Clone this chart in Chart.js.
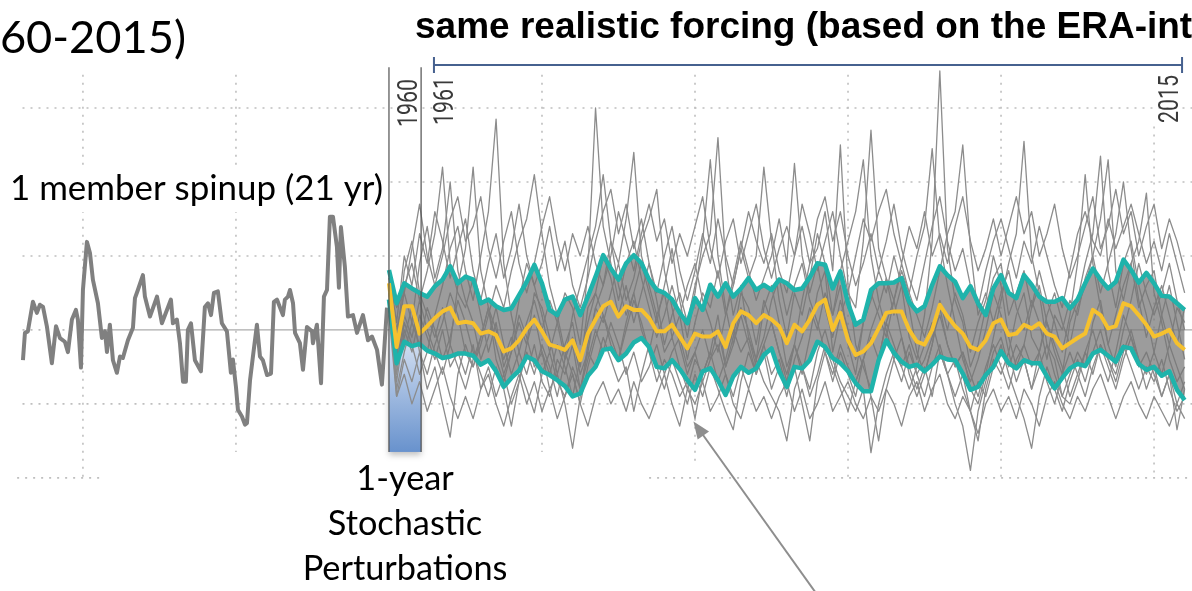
<!DOCTYPE html>
<html lang="en">
<head>
<meta charset="UTF-8" />
<title>Ensemble with stochastic perturbations</title>
<script src="https://cdn.jsdelivr.net/npm/chart.js"></script>
<style>
  html, body { margin: 0; padding: 0; background: #fff; overflow: hidden; }
  canvas { display: block; }
</style>
</head>
<body>
<canvas id="ensembleChart" width="1192" height="591"></canvas>
<script>
// time axis: units of the schematic, 0 = start of 1960
const spinT = [-23.92,-23.79,-23.6,-23.27,-23.01,-22.81,-22.61,-22.35,-22.03,-21.76,-21.5,-21.18,-20.98,-20.72,-20.46,-20.33,-20.13,-20.0,-19.74,-19.54,-19.35,-19.02,-18.76,-18.56,-18.43,-18.24,-18.04,-17.78,-17.58,-17.39,-17.06,-16.73,-16.6,-16.41,-16.08,-15.95,-15.62,-15.16,-14.84,-14.51,-14.25,-14.12,-13.86,-13.66,-13.46,-13.27,-13.14,-12.94,-12.68,-12.29,-12.03,-11.83,-11.63,-11.44,-11.18,-10.92,-10.59,-10.33,-10.2,-10.0,-9.87,-9.61,-9.41,-9.28,-9.08,-8.89,-8.63,-8.43,-8.24,-7.97,-7.71,-7.52,-7.32,-6.93,-6.8,-6.6,-6.47,-6.27,-6.14,-5.82,-5.62,-5.36,-5.03,-4.97,-4.71,-4.44,-4.25,-4.05,-3.86,-3.66,-3.4,-3.27,-3.14,-2.88,-2.68,-2.35,-2.09,-1.7,-1.37,-1.11,-0.78,-0.46,-0.13];
const spinV = [-0.41,-0.04,-0.02,0.38,0.23,0.34,0.31,0.04,-0.45,0.05,-0.11,-0.16,-0.3,0.14,0.27,0.14,-0.51,0.54,1.19,1.04,0.68,0.36,-0.11,-0.02,-0.3,0.07,-0.41,-0.58,-0.36,-0.38,-0.14,0.03,0.43,0.54,0.74,0.45,0.18,0.45,0.09,0.27,0.41,0.09,0.14,-0.18,-0.7,-0.7,0.0,0.09,-0.41,-0.56,0.31,0.36,0.2,0.5,0.52,0.09,-0.02,-0.58,-0.4,-0.77,-1.08,-1.17,-1.28,-1.26,-0.68,-0.36,0.07,-0.36,-0.41,-0.61,-0.59,0.38,0.41,0.2,0.41,0.45,0.54,0.36,-0.04,-0.18,-0.54,0.04,-0.02,-0.18,0.07,-0.72,0.45,0.54,1.53,1.53,1.12,0.57,1.39,0.85,0.18,0.2,-0.04,0.2,-0.14,-0.09,-0.27,-0.74,0.3];

// ensemble 1960-2015, sampled every half unit from t = 0
const ensStart = 0;
const ensStep = 0.5;
const ensMean = [0.63,-0.23,0.32,0.32,-0.05,0.05,0.16,0.25,0.3,0.09,
  0.11,0.09,-0.05,-0.02,-0.07,-0.29,-0.25,-0.14,0.02,0.14,
  -0.02,-0.2,-0.23,-0.27,-0.14,-0.41,-0.05,0.14,0.32,0.38,
  0.18,0.32,0.27,0.27,0.16,-0.02,-0.02,0.07,-0.09,-0.25,
  -0.05,-0.09,-0.09,-0.02,-0.23,0.09,0.25,0.2,0.09,0.2,
  0.14,0.05,-0.18,0.07,-0.02,0.14,0.34,0.41,0.0,0.23,
  -0.14,-0.34,-0.29,-0.18,0.02,0.23,0.25,0.25,0.0,-0.16,
  -0.2,0.0,0.34,0.18,0.05,-0.05,-0.23,-0.27,-0.14,0.09,
  0.14,-0.07,-0.05,0.07,0.02,0.09,-0.05,-0.09,-0.25,-0.18,
  -0.11,-0.05,0.27,0.2,0.02,0.05,0.36,0.32,0.2,0.07,
  -0.09,-0.05,0.0,-0.18,-0.27];
const ensUpper = [0.81,0.36,0.63,0.56,0.5,0.45,0.59,0.68,0.86,0.63,
  0.72,0.68,0.36,0.41,0.32,0.27,0.29,0.47,0.65,0.88,
  0.63,0.27,0.2,0.41,0.45,0.2,0.45,0.72,1.01,0.83,
  0.68,0.9,1.01,0.9,0.68,0.54,0.5,0.41,0.23,0.09,
  0.43,0.27,0.61,0.45,0.63,0.45,0.56,0.7,0.54,0.61,
  0.54,0.68,0.63,0.54,0.56,0.71,0.9,0.88,0.56,0.79,
  0.36,0.07,0.14,0.54,0.63,0.63,0.64,0.7,0.38,0.25,
  0.32,0.61,0.86,0.74,0.65,0.43,0.59,0.36,0.2,0.56,
  0.74,0.5,0.43,0.74,0.61,0.45,0.38,0.38,0.43,0.29,
  0.41,0.63,0.83,0.68,0.56,0.65,0.95,0.81,0.64,0.77,
  0.63,0.46,0.45,0.36,0.27];
const ensLower = [0.41,-0.45,-0.16,-0.22,-0.19,-0.28,-0.32,-0.38,-0.36,-0.32,
  -0.32,-0.35,-0.47,-0.41,-0.56,-0.77,-0.65,-0.55,-0.36,-0.41,
  -0.56,-0.61,-0.68,-0.76,-0.9,-0.86,-0.62,-0.5,-0.27,-0.25,
  -0.41,-0.32,-0.17,-0.11,-0.23,-0.5,-0.52,-0.41,-0.53,-0.68,
  -0.81,-0.56,-0.52,-0.68,-0.88,-0.63,-0.5,-0.58,-0.52,-0.34,
  -0.25,-0.56,-0.77,-0.5,-0.52,-0.41,-0.16,-0.23,-0.38,-0.45,
  -0.56,-0.72,-0.83,-0.83,-0.41,-0.14,-0.31,-0.43,-0.5,-0.47,
  -0.56,-0.47,-0.36,-0.4,-0.41,-0.59,-0.81,-0.77,-0.61,-0.5,
  -0.29,-0.45,-0.52,-0.41,-0.45,-0.45,-0.63,-0.79,-0.65,-0.52,
  -0.46,-0.49,-0.32,-0.27,-0.35,-0.43,-0.23,-0.25,-0.46,-0.54,
  -0.5,-0.62,-0.56,-0.81,-0.95];

// individual members (same sampling)
const member1 = [0.5,-0.4,0.6,0.9,0.4,0.8,1.3,2.2,0.9,0.5, 0.3,0.7,0.2,-0.3,0.1,-0.5,-0.2,0.4,0.9,0.6, 0.2,-0.3,0.1,0.5,0.3,-0.2,0.8,3.0,1.4,0.9, 0.4,0.9,1.2,0.7,0.3,-0.1,0.2,0.6,0.2,-0.4, 0.1,0.5,0.3,0.8,0.2,0.6,1.1,0.7,1.0,2.2, 1.2,0.4,-0.1,0.5,0.2,0.7,1.3,0.9,0.2,0.6, -0.2,-0.6,0.1,0.4,0.8,0.5,1.0,0.6,-0.1,-0.4, 0.2,1.2,3.5,1.1,0.4,0.1,-0.5,-0.2,0.3,0.7, 0.9,0.2,0.5,0.8,0.3,0.6,0.1,-0.3,-0.6,0.1, 0.4,0.9,1.3,2.35,0.8,0.3,0.9,1.2,0.6,0.2, -0.3,0.2,0.6,0.1,-0.4];
const member2 = [0.6,-0.6,0.1,-0.2,-0.6,-0.3,0.2,0.6,1.1,1.4, 0.8,0.4,1.0,1.6,2.85,0.9,0.2,-0.3,-0.6,-0.2, -0.7,-0.9,-0.4,-0.6,-0.2,-0.8,-0.3,0.3,0.6,1.2, 0.9,1.5,2.4,1.0,0.6,0.2,-0.3,-0.1,-0.5,-0.8, -0.4,-0.6,-0.3,0.2,-0.5,-0.1,0.5,0.3,-0.2,0.4, 0.1,-0.3,-0.7,-0.2,0.4,0.9,1.1,1.6,0.8,2.5, 0.6,-0.2,-0.5,-0.8,-0.4,0.1,0.4,-0.1,-0.6,-0.9, -0.6,-0.2,0.3,-0.2,-0.5,-0.3,-0.8,-1.0,-0.6,-0.1, 0.4,0.9,1.3,2.55,1.0,0.5,-0.2,-0.4,-0.9,-0.6, -0.3,-0.5,0.1,0.4,-0.2,0.2,0.6,0.9,1.2,1.85, 0.5,0.1,-0.4,-0.7,-0.5];
const member3 = [0.7,-0.2,0.8,1.2,0.5,0.2,-0.1,0.3,-0.2,0.6, 1.1,2.2,0.8,0.3,-0.4,-0.7,-0.3,0.1,-0.2,0.5, 0.3,-0.1,-0.6,-0.2,0.1,-0.5,0.3,0.5,1.0,0.7, 0.2,0.6,0.1,0.5,0.9,0.4,-0.2,0.2,0.5,0.1, 0.6,1.0,1.3,2.6,0.9,0.2,0.6,-0.1,-0.4,0.3, 0.6,0.1,-0.5,-0.2,-0.6,-0.1,0.5,0.8,-0.3,0.2, 0.5,0.3,1.2,2.7,1.1,0.7,0.2,0.6,0.3,-0.3, -0.6,-0.2,0.4,0.0,0.5,0.2,-0.3,0.1,0.4,1.0, 0.6,-0.1,-0.5,-0.2,0.3,0.8,0.4,0.1,-0.3,0.2, 0.9,2.1,0.9,0.3,-0.2,-0.5,0.0,0.4,0.9,0.5, 0.2,0.5,0.9,0.4,0.0];
const member4 = [0.4,-0.5,-0.1,0.3,-0.3,-0.6,-0.2,0.1,0.5,0.2, -0.3,-0.5,-0.2,0.2,0.6,0.3,0.8,1.2,1.5,2.1, 1.3,0.6,0.2,-0.3,-0.6,-1.0,-0.5,-0.1,0.2,-0.2, -0.4,0.1,0.5,0.9,0.5,0.1,0.6,1.1,0.4,-0.1, 0.5,1.2,2.3,1.0,0.3,-0.2,0.3,0.0,-0.4,-0.1, 0.4,0.7,0.2,0.6,0.9,0.4,0.1,-0.3,-0.7,-0.3, -0.6,-0.9,-0.4,0.0,0.3,0.7,0.4,0.9,0.5,1.0, 1.4,2.45,1.2,0.6,0.1,-0.4,-0.7,-0.4,0.0,0.5, 0.2,-0.3,0.2,0.5,-0.1,-0.3,0.2,0.5,0.1,-0.2, 0.3,0.6,1.0,0.5,0.9,1.3,2.0,1.1,0.4,-0.1, 0.3,0.6,0.2,-0.2,0.3];
const member5 = [0.6,0.0,0.5,0.1,0.9,1.4,0.7,1.1,2.0,0.8, 0.4,0.1,-0.4,-0.1,0.3,-0.2,-0.6,-0.3,0.1,0.4, 0.0,0.4,0.1,-0.4,0.2,0.6,1.0,1.4,2.1,1.2, 0.6,0.2,0.5,0.0,-0.3,0.2,0.5,-0.1,0.2,0.6, 0.9,0.4,0.1,-0.3,0.2,0.7,1.2,0.8,0.4,0.7, 1.0,1.5,0.9,2.25,1.0,0.5,0.9,0.3,-0.1,0.4, 0.0,-0.4,0.1,0.5,0.2,-0.1,0.4,0.8,0.5,0.2, -0.1,0.3,0.8,1.3,1.6,2.5,1.1,0.2,0.5,0.1, 0.5,0.8,0.3,0.0,0.4,0.1,-0.4,0.2,0.0,0.4, 0.2,0.7,1.0,1.5,2.3,0.8,0.4,0.9,0.3,0.6, 0.8,0.2,-0.2,0.3,0.1];
const member6 = [0.5,-0.9,-0.4,-0.7,-0.3,-0.8,-0.5,-1.0,-1.45,-0.6, -0.2,-0.5,-0.1,0.3,-0.2,-0.6,-0.3,0.2,-0.1,-0.5, -0.3,-0.8,-0.6,-1.0,-1.6,-0.9,-0.2,0.3,0.1,0.5, 0.9,0.4,0.7,1.2,1.5,1.9,0.8,0.3,-0.2,-0.6, -0.3,-0.7,-0.4,0.0,-0.5,-0.2,0.2,-0.2,-0.6,-0.3, -0.8,-0.5,-0.9,-0.4,-0.1,0.3,0.0,0.5,0.2,0.8, 1.2,1.6,2.3,1.0,0.4,0.0,-0.4,-0.1,-0.5,-0.8, -0.5,-0.9,-0.3,-0.6,-1.0,-1.3,-1.9,-1.1,-0.7,-0.3, -0.1,-0.5,-0.2,-0.4,-0.8,-0.3,0.1,-0.2,-0.5,-0.9, -0.6,-0.3,0.0,-0.4,-0.7,-0.3,0.2,-0.1,-0.4,-0.8, -0.5,-0.9,-0.6,-1.0,-0.7];
const member7 = [0.3,-0.7,0.0,-0.3,0.2,-0.1,-0.4,0.0,-0.5,-0.3, -0.6,-0.2,-0.8,-0.5,-0.9,-0.6,-1.0,-0.7,-0.3,-0.6, -0.2,-0.5,-0.9,-0.4,-0.1,-0.6,-0.3,-0.5,-0.1,-0.4, -0.7,-0.5,-1.1,-0.6,-0.2,-0.5,-0.8,-0.4,-0.7,-1.0, -0.6,-0.9,-0.5,-0.8,-1.1,-1.35,-0.7,-0.3,-0.6,-0.2, 0.1,-0.3,-0.6,-0.2,-0.5,-0.8,-0.3,0.0,-0.4,-0.7, -0.9,-1.1,-0.8,-1.66,-1.0,-0.6,-0.3,-0.5,-0.2,-0.6, -0.9,-0.5,-0.2,-0.6,-0.4,-0.8,-1.1,-0.7,-0.9,-0.5, -0.2,-0.6,-0.9,-1.2,-1.6,-0.9,-0.5,-0.8,-1.1,-0.7, -0.4,-0.7,-0.3,0.0,-0.4,-0.6,-0.2,-0.5,-0.8,-0.5, -0.7,-0.4,-0.8,-1.1,-0.9];
const member8 = [0.4,-0.8,-0.3,0.1,-0.2,0.3,0.0,-0.4,-0.1,0.4, 0.1,-0.3,-0.6,-0.9,-0.5,-0.8,-1.3,-0.7,-0.2,0.2, -0.3,-0.6,-0.2,-0.5,-0.9,-0.4,0.1,0.5,0.2,-0.1, -0.4,0.0,0.4,0.1,-0.3,-0.7,-0.4,-0.6,-0.9,-0.7, -1.2,-0.6,-0.3,-0.7,-0.4,0.0,-0.3,-0.1,-0.5,-0.2, -0.6,-0.4,-0.8,-0.5,-1.0,-1.5,-0.7,-0.3,-0.6,-0.2, -0.5,-0.7,-0.4,-0.1,-0.4,0.1,-0.2,-0.5,-0.8,-0.5, -0.2,0.1,-0.3,-0.6,-0.9,-0.6,-1.1,-1.5,-0.8,-0.4, -0.6,-0.3,-0.7,-0.4,-0.8,-0.5,-0.2,-0.6,-0.9,-1.0, -0.7,-0.3,-0.6,-0.2,-0.5,-0.8,-0.4,-0.1,-0.5,-0.3, -0.6,-0.9,-0.6,-1.35,-0.8];
const member9 = [0.6,-0.5,0.2,-0.1,0.4,0.0,-0.3,-0.6,-0.2,-0.5, -0.8,-0.4,-0.1,0.3,0.0,-0.4,-0.1,-0.5,-0.8,-1.12, -0.6,-0.3,-0.7,-0.9,-0.5,-0.8,-0.4,0.0,-0.3,0.1, -0.2,-0.6,-0.3,-0.7,-0.5,-0.2,-0.6,-0.3,-0.1,-0.5, -0.3,0.0,-0.4,-0.2,-0.6,-0.9,-0.5,-0.8,-0.4,-0.7, -0.9,-1.1,-1.5,-0.8,-0.5,-0.9,-0.6,-0.2,-0.5,-0.8, -1.1,-0.7,-0.4,-0.9,-1.5,-0.8,-0.4,-0.7,-0.3,-0.6, -0.4,-0.1,0.2,-0.2,-0.5,-0.3,-0.6,-0.9,-0.5,-0.2, -0.5,-0.8,-0.4,-0.2,-0.5,-0.3,-0.7,-1.0,-0.6,-0.3, -0.6,-0.9,-0.5,-0.2,-0.4,-0.7,-0.3,0.0,-0.4,-0.6, -0.3,-0.6,-0.2,-0.5,-0.8];
const member10 = [0.8,0.1,1.0,0.6,1.3,0.9,1.6,1.2,0.7,1.1, 1.5,0.8,0.4,0.9,1.3,0.7,1.1,1.7,1.0,0.6, 0.9,1.4,0.8,1.2,0.6,0.3,0.7,1.2,1.6,1.9, 1.3,1.7,1.1,1.5,0.9,0.5,1.0,1.4,0.8,0.4, 0.8,1.3,0.9,1.5,1.0,0.6,1.1,1.6,1.2,0.9, 1.3,0.8,0.5,1.0,1.4,0.9,1.5,1.8,1.2,1.6, 1.0,0.6,0.9,1.3,0.8,1.2,1.7,1.1,0.7,0.4, 0.9,1.4,1.8,1.2,0.8,1.1,0.6,0.3,0.8,1.2, 1.5,1.1,0.7,1.2,0.9,1.4,1.0,0.6,0.3,0.8, 1.3,1.6,1.2,1.0,1.5,1.1,1.4,1.7,1.3,0.9, 1.2,0.8,1.3,0.9,0.5];
const member11 = [0.7,0.3,0.5,1.1,1.7,1.0,0.6,1.0,1.5,1.8, 1.2,1.4,1.8,1.1,0.7,1.2,1.6,0.9,0.5,0.9, 1.4,1.8,1.2,0.8,1.3,1.0,1.4,0.9,0.6,1.0, 1.6,1.2,0.8,1.3,1.7,1.2,1.5,0.9,1.3,1.0, 1.4,1.8,1.1,0.7,1.2,1.5,0.9,1.3,1.7,1.1, 0.7,1.1,1.4,1.0,1.7,1.3,0.8,1.2,1.6,1.0, 0.5,1.0,1.5,1.2,1.6,1.9,1.3,0.9,1.4,1.1, 1.6,1.0,1.3,0.9,1.4,1.8,1.2,0.8,1.1,1.5, 1.0,1.4,1.8,1.3,1.6,1.0,1.3,1.7,1.1,0.7, 1.0,1.4,1.8,1.1,1.4,1.9,1.3,1.6,1.0,1.4, 1.7,1.1,1.5,1.2,0.8];
const member12 = [0.2,-0.9,-0.6,-1.0,-0.7,-1.1,-0.8,-0.5,-0.9,-1.2, -0.9,-1.2,-0.8,-0.6,-1.0,-1.3,-0.9,-0.6,-1.0,-0.7, -1.1,-0.8,-1.2,-0.9,-0.6,-1.0,-1.3,-0.9,-0.7,-1.0, -0.8,-1.1,-0.7,-1.0,-1.2,-0.9,-0.6,-1.0,-1.3,-0.8, -1.0,-0.7,-1.1,-0.9,-0.6,-1.0,-1.2,-0.8,-1.1,-0.9, -1.2,-0.9,-0.7,-1.1,-0.8,-1.2,-1.0,-0.7,-1.1,-0.9, -0.7,-1.0,-1.2,-0.9,-1.1,-0.8,-1.0,-1.3,-0.9,-0.7, -1.1,-0.8,-0.6,-1.0,-1.2,-0.9,-1.1,-1.4,-1.0,-0.8, -1.1,-0.9,-1.2,-0.8,-1.0,-1.3,-0.9,-0.7,-1.0,-1.2, -0.9,-1.1,-0.8,-0.6,-0.9,-1.2,-0.9,-0.7,-1.0,-1.2, -0.9,-1.1,-1.3,-1.0,-1.2];
const members = [member1, member2, member3, member4, member5, member6,
                 member7, member8, member9, member10, member11, member12];

// markers on the time axis
const markYears = ["1960", "1961", "2015"];
const pertEnd = 2.1;          // end of the 1-year perturbation window
const forcingRange = [2.94, 51.83];

const teal = "#1fb3ab";
const yellow = "#f6c12e";

function toPoints(values, start, step) {
  return values.map((v, i) => ({ x: start + i * step, y: v }));
}

function fitFont(ctx, text, style, family, width) {
  ctx.font = style + " 100px " + family;
  const size = (100 * width) / ctx.measureText(text).width;
  return style + " " + size.toFixed(1) + "px " + family;
}

// dotted grid, zero line, perturbation box
const backdrop = {
  id: "backdrop",
  beforeDatasetsDraw(chart) {
    const { ctx, scales } = chart;
    const X = (t) => scales.x.getPixelForValue(t);
    const Y = (v) => scales.y.getPixelForValue(v);
    ctx.save();
    ctx.strokeStyle = "#bfbfbf";
    ctx.lineWidth = 1.6;
    ctx.setLineDash([2, 6]);
    const hLines = [
      [3, -23.95, 52.5], [2, -23.95, 52.5], [1, -23.95, 52.5], [0, -23.95, -20],
      [-1, -23.95, 52.5], [-2, -24.3, -18.7], [-2, 17.0, 52.5],
    ];
    hLines.forEach(([v, a, b]) => {
      ctx.beginPath();
      ctx.moveTo(X(a), Y(v));
      ctx.lineTo(X(b), Y(v));
      ctx.stroke();
    });
    const vLines = [
      [-20, 3.45, -2], [-10, 3.45, -1.65], [10, 3.45, -1.65], [20, 3.45, -1.8],
      [30, 3.45, -2], [40, 3.45, -2], [50, 2.75, -2],
    ];
    vLines.forEach(([t, a, b]) => {
      ctx.beginPath();
      ctx.moveTo(X(t), Y(a));
      ctx.lineTo(X(t), Y(b));
      ctx.stroke();
    });
    ctx.setLineDash([]);
    ctx.strokeStyle = "#ababab";
    ctx.lineWidth = 1.2;
    ctx.beginPath();
    ctx.moveTo(X(-20), Y(0));
    ctx.lineTo(X(52.5), Y(0));
    ctx.stroke();

    // 1-year perturbation window
    const x0 = X(0), x1 = X(pertEnd), yTop = Y(0.45), yBot = Y(-1.65);
    const grad = ctx.createLinearGradient(0, yTop, 0, yBot);
    grad.addColorStop(0, "rgba(255,255,255,0)");
    grad.addColorStop(0.35, "#c9d8ee");
    grad.addColorStop(1, "#6892cd");
    ctx.shadowColor = "rgba(0,0,0,0.25)";
    ctx.shadowBlur = 6;
    ctx.shadowOffsetY = 3;
    ctx.fillStyle = grad;
    ctx.fillRect(x0, yTop, x1 - x0, yBot - yTop);
    ctx.restore();
  },
};

// vertical year markers, bracket, texts, arrow
const annotations = {
  id: "annotations",
  afterDatasetsDraw(chart) {
    const { ctx, scales } = chart;
    const X = (t) => scales.x.getPixelForValue(t);
    const Y = (v) => scales.y.getPixelForValue(v);
    ctx.save();

    ctx.strokeStyle = "#505050";
    ctx.lineWidth = 1.2;
    [0, pertEnd].forEach((t) => {
      ctx.beginPath();
      ctx.moveTo(X(t), Y(3.55));
      ctx.lineTo(X(t), Y(-1.65));
      ctx.stroke();
    });

    // forcing bracket
    ctx.strokeStyle = "#46618f";
    ctx.lineWidth = 2;
    const bx0 = X(forcingRange[0]), bx1 = X(forcingRange[1]), by = Y(3.58);
    ctx.beginPath();
    ctx.moveTo(bx0, by); ctx.lineTo(bx1, by);
    ctx.moveTo(bx0, by - 8); ctx.lineTo(bx0, by + 8);
    ctx.moveTo(bx1, by - 8); ctx.lineTo(bx1, by + 8);
    ctx.stroke();

    // rotated year labels, narrow and tall like the original
    ctx.fillStyle = "#3a3a3a";
    ctx.font = "normal 27px Roboto, 'Liberation Sans'";
    const yearPos = [[X(0) + 28, 127], [X(forcingRange[0]) + 19, 125], [X(forcingRange[1]) - 4, 123]];
    markYears.forEach((label, i) => {
      const w = ctx.measureText(label).width;
      ctx.save();
      ctx.translate(yearPos[i][0], yearPos[i][1]);
      ctx.rotate(-Math.PI / 2);
      ctx.scale(48 / w, 1);
      ctx.textAlign = "left";
      ctx.textBaseline = "alphabetic";
      ctx.fillText(label, 0, 0);
      ctx.restore();
    });

    ctx.fillStyle = "#000";
    ctx.textBaseline = "alphabetic";

    // top texts
    ctx.textAlign = "right";
    ctx.font = fitFont(ctx, "60-2015)", "normal", "Lato", 186);
    ctx.fillText("60-2015)", 186, 53);
    ctx.textAlign = "left";
    const title = "same realistic forcing (based on the ERA-int";
    ctx.font = fitFont(ctx, title, "bold", "'Liberation Sans', Arial", 778);
    ctx.fillText(title, 415, 38);

    // spinup label on white box
    ctx.fillStyle = "#fff";
    ctx.fillRect(4, 166, 381, 46);
    ctx.fillStyle = "#000";
    const spinLabel = "1 member spinup (21 yr)";
    ctx.font = fitFont(ctx, spinLabel, "normal", "Lato", 373);
    ctx.fillText(spinLabel, 10, 200);

    // perturbation caption
    ctx.textAlign = "center";
    ctx.font = fitFont(ctx, "Perturbations", "normal", "Lato", 205);
    const cx = (X(0) + X(pertEnd)) / 2;
    ctx.fillText("1-year", cx, 490);
    ctx.fillText("Stochastic", cx, 535);
    ctx.fillText("Perturbations", cx, 580);

    // arrow pointing at the ensemble
    const hx = X(19.9), hy = Y(-1.24), tx = X(28.05), ty = Y(-3.6);
    const ang = Math.atan2(hy - ty, hx - tx);
    ctx.strokeStyle = "#8e8e8e";
    ctx.fillStyle = "#8e8e8e";
    ctx.lineWidth = 2;
    ctx.beginPath();
    ctx.moveTo(tx, ty);
    ctx.lineTo(hx - 10 * Math.cos(ang), hy - 10 * Math.sin(ang));
    ctx.stroke();
    ctx.beginPath();
    ctx.moveTo(hx, hy);
    ctx.lineTo(hx - 17 * Math.cos(ang) + 7 * Math.sin(ang), hy - 17 * Math.sin(ang) - 7 * Math.cos(ang));
    ctx.lineTo(hx - 17 * Math.cos(ang) - 7 * Math.sin(ang), hy - 17 * Math.sin(ang) + 7 * Math.cos(ang));
    ctx.closePath();
    ctx.fill();

    ctx.restore();
  },
};

const datasets = [
  { data: toPoints(ensMean, ensStart, ensStep), borderColor: yellow, borderWidth: 4 },
  { data: toPoints(ensUpper, ensStart, ensStep), borderColor: teal, borderWidth: 4.5 },
  { data: toPoints(ensLower, ensStart, ensStep), borderColor: teal, borderWidth: 4.5 },
  {
    data: toPoints(ensUpper, ensStart, ensStep),
    borderWidth: 0,
    backgroundColor: "rgba(118,118,118,0.72)",
    fill: 2,
  },
];
members.forEach((m) => {
  datasets.push({ data: toPoints(m, ensStart, ensStep), borderColor: "#8c8c8c", borderWidth: 1.3 });
});
datasets.push({
  data: spinT.map((t, i) => ({ x: t, y: spinV[i] })),
  borderColor: "#808080",
  borderWidth: 4,
});

new Chart(document.getElementById("ensembleChart").getContext("2d"), {
  type: "line",
  data: { datasets },
  options: {
    responsive: false,
    animation: false,
    events: [],
    layout: { padding: 0 },
    elements: { point: { radius: 0 }, line: { tension: 0, borderJoinStyle: "round" } },
    plugins: { legend: { display: false }, tooltip: { enabled: false } },
    scales: {
      x: { type: "linear", min: -25.42, max: 52.48, display: false },
      y: { type: "linear", min: -3.53, max: 4.46, display: false },
    },
  },
  plugins: [backdrop, annotations],
});
</script>
</body>
</html>
